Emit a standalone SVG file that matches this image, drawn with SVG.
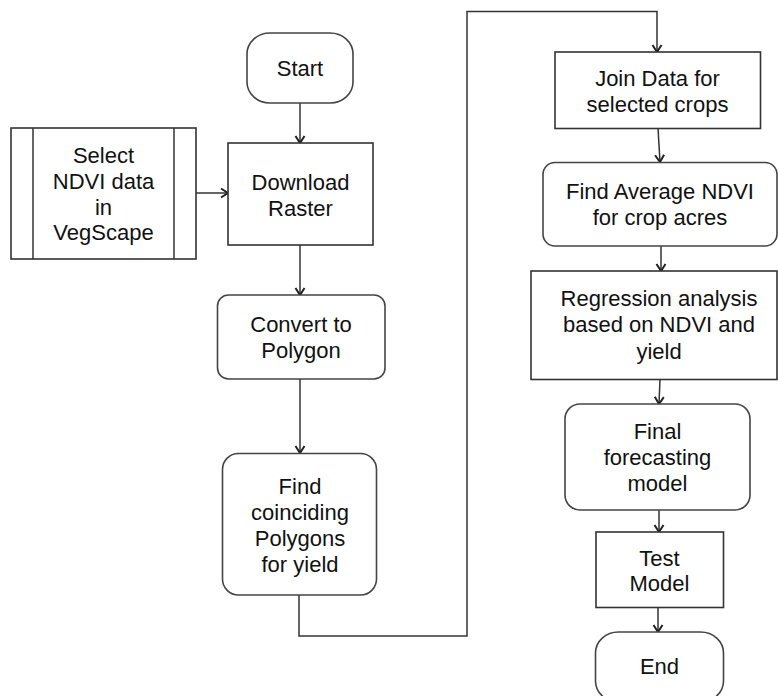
<svg xmlns="http://www.w3.org/2000/svg" width="778" height="696" viewBox="0 0 778 696">
  <defs>
    <style>
      .box { fill: #ffffff; stroke: #333333; stroke-width: 1.6; }
      .rbox { fill: #ffffff; stroke: #444444; stroke-width: 1.6; }
      .lbl { font-family: "Liberation Sans", Arial, sans-serif; font-size: 22px; fill: #111111; text-anchor: middle; }
      .edge { fill: none; stroke: #333333; stroke-width: 1.5; }
    </style>
    <!-- open V arrowhead, drawn pointing along +x and rotated with the line -->
    <marker id="arrow" viewBox="0 0 12 12" refX="11" refY="6" markerWidth="12" markerHeight="12" markerUnits="userSpaceOnUse" orient="auto">
      <path d="M4,1.5 L11,6 L4,10.5" fill="none" stroke="#222222" stroke-width="2"/>
    </marker>
  </defs>
  <rect width="778" height="696" fill="#ffffff"/>

  <!-- connectors -->
  <g id="connectors">
    <line class="edge" x1="300" y1="103" x2="300" y2="143" marker-end="url(#arrow)"/>
    <line class="edge" x1="196" y1="193" x2="228" y2="193" marker-end="url(#arrow)"/>
    <line class="edge" x1="300" y1="245" x2="300" y2="295" marker-end="url(#arrow)"/>
    <line class="edge" x1="300" y1="379" x2="300" y2="453" marker-end="url(#arrow)"/>
    <polyline class="edge" points="299,595 299,636 467,636 467,11.5 657,11.5 657,52" marker-end="url(#arrow)"/>
    <line class="edge" x1="658" y1="128" x2="660" y2="162" marker-end="url(#arrow)"/>
    <line class="edge" x1="661" y1="246" x2="661" y2="271" marker-end="url(#arrow)"/>
    <line class="edge" x1="660" y1="379" x2="659" y2="404" marker-end="url(#arrow)"/>
    <line class="edge" x1="659" y1="510" x2="659" y2="532" marker-end="url(#arrow)"/>
    <line class="edge" x1="658" y1="607" x2="658" y2="632" marker-end="url(#arrow)"/>
  </g>

  <g id="start">
    <rect class="rbox" x="247" y="33" width="106" height="70" rx="23" ry="21"/>
    <text class="lbl" x="300" y="76">Start</text>
  </g>

  <g id="select-ndvi">
    <rect class="box" x="11" y="128" width="185" height="131"/>
    <line class="edge" x1="33" y1="128" x2="33" y2="259"/>
    <line class="edge" x1="174" y1="128" x2="174" y2="259"/>
    <text class="lbl" x="103.5" y="163">Select</text>
    <text class="lbl" x="103.5" y="189">NDVI data</text>
    <text class="lbl" x="103.5" y="214.5">in</text>
    <text class="lbl" x="103.5" y="240">VegScape</text>
  </g>

  <g id="download-raster">
    <rect class="box" x="228" y="143" width="145" height="102"/>
    <text class="lbl" x="300.5" y="189.5">Download</text>
    <text class="lbl" x="300.5" y="216">Raster</text>
  </g>

  <g id="convert-polygon">
    <rect class="rbox" x="217.5" y="295" width="167.5" height="84" rx="11" ry="11"/>
    <text class="lbl" x="301" y="332">Convert to</text>
    <text class="lbl" x="301" y="357.5">Polygon</text>
  </g>

  <g id="find-polygons">
    <rect class="rbox" x="222.5" y="453.5" width="154" height="141.5" rx="16" ry="16"/>
    <text class="lbl" x="300" y="494">Find</text>
    <text class="lbl" x="300" y="520">coinciding</text>
    <text class="lbl" x="300" y="546">Polygons</text>
    <text class="lbl" x="300" y="572">for yield</text>
  </g>

  <g id="join-data">
    <rect class="box" x="555" y="52" width="205.5" height="76.5"/>
    <text class="lbl" x="657.5" y="86">Join Data for</text>
    <text class="lbl" x="657.5" y="112">selected crops</text>
  </g>

  <g id="average-ndvi">
    <rect class="rbox" x="543" y="162.5" width="234" height="83.5" rx="12" ry="12"/>
    <text class="lbl" x="660" y="198.5">Find Average NDVI</text>
    <text class="lbl" x="660" y="224.5">for crop acres</text>
  </g>

  <g id="regression">
    <rect class="box" x="531" y="271" width="246" height="108.5"/>
    <text class="lbl" x="659" y="305.5">Regression analysis</text>
    <text class="lbl" x="659" y="332">based on NDVI and</text>
    <text class="lbl" x="659" y="358.5">yield</text>
  </g>

  <g id="final-model">
    <rect class="rbox" x="565" y="404" width="185" height="106" rx="15" ry="15"/>
    <text class="lbl" x="657.5" y="438.5">Final</text>
    <text class="lbl" x="657.5" y="465">forecasting</text>
    <text class="lbl" x="657.5" y="491">model</text>
  </g>

  <g id="test-model">
    <rect class="box" x="596" y="532" width="127.5" height="75.5"/>
    <text class="lbl" x="659.5" y="565.5">Test</text>
    <text class="lbl" x="659.5" y="591">Model</text>
  </g>

  <g id="end">
    <rect class="rbox" x="595.5" y="632" width="128" height="70" rx="23" ry="21"/>
    <text class="lbl" x="659.5" y="673.5">End</text>
  </g>
</svg>
